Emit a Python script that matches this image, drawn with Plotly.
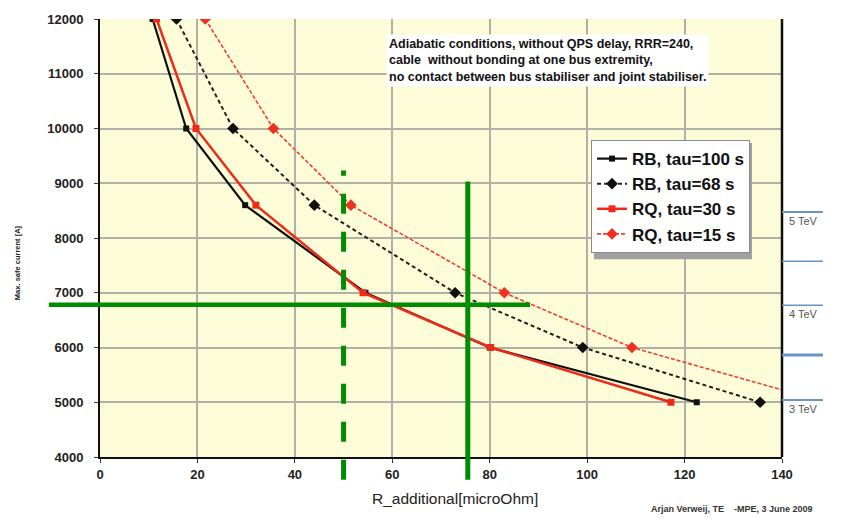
import plotly.graph_objects as go

# ---- data ----
current = [12000, 10000, 8600, 7000, 6000, 5000]
rb_tau100 = [10.8, 17.7, 29.8, 54.5, 80.0, 122.5]
rb_tau68 = [15.7, 27.3, 44.0, 72.9, 99.1, 135.5]
rq_tau30 = [11.6, 19.7, 32.0, 54.0, 80.2, 117.2]
rq_tau15 = [21.6, 35.6, 51.5, 83.0, 109.2, 149.0]

# reference markers (green)
h_current = 6780
h_x_span = [-10.5, 88.3]
v_solid_r = 75.5
v_solid_span = [3583, 9032]
v_dash_r = 50
v_dash_span = [3583, 9231]

# energy scale on the right
tev_levels = [8475, 7575, 6770, 5865, 5040]
tev_labels = {8475: "5 TeV", 6770: "4 TeV", 5040: "3 TeV"}
tev_widths = [2, 1.5, 1.5, 3, 2]

x_range = [0, 140]
y_range = [4000, 12000]

def px(v):
    return (v - x_range[0]) / (x_range[1] - x_range[0])

def py(v):
    return (v - y_range[0]) / (y_range[1] - y_range[0])

FONT = "Liberation Sans, Arial, sans-serif"

fig = go.Figure()
fig.add_trace(go.Scatter(x=rb_tau100, y=current, name="<b>RB, tau=100 s</b>", mode="lines+markers",
                         line=dict(color="#101010", width=2.2),
                         marker=dict(symbol="square", size=6, color="#101010"),
                         legendgroup="a"))
fig.add_trace(go.Scatter(x=rb_tau68, y=current, name="<b>RB, tau=68 s</b>", mode="lines+markers",
                         line=dict(color="#202020", width=2, dash="4px,3px"),
                         marker=dict(symbol="diamond", size=9, color="#101010"),
                         legendgroup="b"))
fig.add_trace(go.Scatter(x=rq_tau30, y=current, name="<b>RQ, tau=30 s</b>", mode="lines+markers",
                         line=dict(color="#F02A18", width=2.5),
                         marker=dict(symbol="square", size=7, color="#F02A18"),
                         legendgroup="c"))
fig.add_trace(go.Scatter(x=rq_tau15, y=current, name="<b>RQ, tau=15 s</b>", mode="lines+markers",
                         line=dict(color="#F04030", width=1.6, dash="4px,2px"),
                         marker=dict(symbol="diamond", size=9, color="#F03020"),
                         legendgroup="d"))

shapes = []
green = "#008C00"
# horizontal green line
shapes.append(dict(type="line", xref="paper", yref="paper",
                   x0=px(h_x_span[0]), x1=px(h_x_span[1]), y0=py(h_current), y1=py(h_current),
                   line=dict(color=green, width=4.5)))
# vertical solid
shapes.append(dict(type="line", xref="paper", yref="paper",
                   x0=px(v_solid_r), x1=px(v_solid_r), y0=py(v_solid_span[0]), y1=py(v_solid_span[1]),
                   line=dict(color=green, width=5)))
# vertical dashed (drawn from the bottom up)
shapes.append(dict(type="line", xref="paper", yref="paper",
                   x0=px(v_dash_r), x1=px(v_dash_r), y0=py(v_dash_span[0]), y1=py(v_dash_span[1]),
                   line=dict(color=green, width=5, dash="20px,18px")))
# right black border
shapes.append(dict(type="line", xref="paper", yref="paper", x0=1, x1=1, y0=0, y1=1,
                   line=dict(color="#101010", width=2.5)))
# TeV scale lines
for lv, w in zip(tev_levels, tev_widths):
    shapes.append(dict(type="line", xref="paper", yref="paper", x0=1.0, x1=1.06,
                       y0=py(lv), y1=py(lv), line=dict(color="#6A94C4", width=w)))
# legend shadow
shapes.append(dict(type="rect", xref="paper", yref="paper",
                   x0=0.7243, x1=0.956, y0=0.4517, y1=0.717,
                   fillcolor="#A0A0A0", line=dict(width=0), layer="above"))

annotations = []
for lv, lab in tev_labels.items():
    annotations.append(dict(xref="paper", yref="paper", x=1.031, y=py(lv), yshift=-9,
                            xanchor="center", yanchor="middle",
                            text=lab, showarrow=False, font=dict(family=FONT, size=11, color="#555")))
annotations.append(dict(xref="paper", yref="paper", x=0.42, y=0.966, xanchor="left", yanchor="top",
                        text="<b>Adiabatic conditions, without QPS delay, RRR=240,<br>"
                             "cable  without bonding at one bus extremity,<br>"
                             "no contact between bus stabiliser and joint stabiliser.</b>",
                        align="left", showarrow=False, bgcolor="#FFFFFF", borderpad=2,
                        font=dict(family=FONT, size=12.5, color="#111")))
annotations.append(dict(xref="paper", yref="paper", x=-0.12, y=0.443, xanchor="center", yanchor="middle",
                        text="<b>Max. safe current [A]</b>", textangle=-90, showarrow=False,
                        font=dict(family=FONT, size=7.5, color="#222")))
annotations.append(dict(xref="paper", yref="paper", x=0.52, y=-0.07, xanchor="center", yanchor="top",
                        text="R_additional[microOhm]", showarrow=False,
                        font=dict(family=FONT, size=15.5, color="#222")))
annotations.append(dict(xref="paper", yref="paper", x=0.927, y=-0.103, xanchor="center", yanchor="top",
                        text="<b>Arjan Verweij, TE    -MPE, 3 June 2009</b>", showarrow=False,
                        font=dict(family=FONT, size=9, color="#333")))

fig.update_layout(
    width=844, height=520,
    margin=dict(l=100, r=62, t=12, b=63),
    paper_bgcolor="#FFFFFF", plot_bgcolor="#FDFCD8",
    font=dict(family=FONT, color="#222"),
    xaxis=dict(range=x_range, dtick=20, tick0=0, showgrid=True, gridcolor="#B0B0A6", gridwidth=1.5,
               showline=True, linecolor="#101010", linewidth=2, ticks="outside", ticklen=4,
               tickcolor="#333", tickfont=dict(family=FONT, size=13, color="#222"),
               tickformat="d", tickprefix="<b>", ticksuffix="</b>", zeroline=False),
    yaxis=dict(range=y_range, dtick=1000, showgrid=True, gridcolor="#B0B0A6", gridwidth=1.5,
               showline=True, linecolor="#101010", linewidth=2, ticks="outside", ticklen=4,
               tickcolor="#333", tickfont=dict(family=FONT, size=13, color="#222"),
               tickformat="d", tickprefix="<b>", ticksuffix="</b>", zeroline=False, ticklabelstandoff=8),
    legend=dict(x=0.72, y=0.7236, xanchor="left", yanchor="top", bgcolor="#FFFFFF",
                bordercolor="#8A8A8A", borderwidth=1, tracegroupgap=0,
                font=dict(family=FONT, size=17, color="#111"), itemwidth=30),
    shapes=shapes, annotations=annotations,
)

fig.write_html("out.html")
